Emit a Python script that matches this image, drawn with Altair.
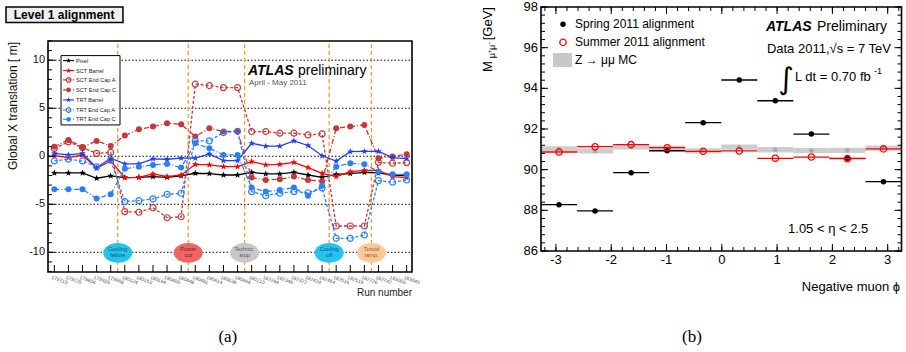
import altair as alt
import pandas as pd

# ---------------- (a) Level-1 alignment, global X translation per run ----------------
runs = ["179710", "179725", "179804", "179939", "179958", "180124", "180153",
        "180164", "180400", "180448", "180481", "180614", "180636", "180664",
        "180710", "182284", "182346", "182372", "182424", "182454", "182516",
        "182519", "182726", "182747", "183003", "183045"]
run_idx = list(range(len(runs)))

pixel = [-1.74, -1.74, -1.74, -2.29, -2.05, -2.22, -2.19, -2.12, -2.19, -2.05, -1.77, -1.81, -1.95,
         -1.95, -1.67, -1.84, -1.84, -1.67, -1.95, -2.19, -1.88, -1.81, -1.67, -1.74, -1.95, -2.02]
sct_barrel = [0.06, -0.14, 0.13, -1.25, -0.49, -2.22, -2.19, -1.84, -2.12, -1.95, -0.84, -0.90, -1.08,
              -1.08, -0.56, -0.90, -0.84, -0.63, -1.18, -1.77, -2.12, -1.60, -1.46, -1.46, -2.12, -2.22]
sct_eca = [0.80, 1.50, 0.90, 0.30, 0.40, -5.76, -5.83, -5.35, -6.40, -6.30, 7.50, 7.36, 7.15,
           7.15, 2.57, 2.57, 2.40, 2.40, 2.22, 2.33, -7.26, -7.26, -7.26, -0.63, -0.73, -0.66]
sct_ecc = [1.00, 1.70, 0.95, 1.60, 1.07, 2.15, 2.81, 3.09, 3.44, 3.33, 2.05, 2.92, 2.57,
           2.60, -2.22, -2.47, -2.40, -2.12, -2.47, -2.60, 2.92, 3.09, 3.26, -0.21, -0.03, 0.21]
trt_barrel = [0.30, 0.14, 0.30, -1.20, -0.20, -0.80, -0.80, -0.28, -0.31, -0.20, -0.20, 0.24, -0.45,
              -0.45, 1.35, 1.05, 1.05, 1.60, 1.12, 0.05, -0.50, 0.48, 0.50, 0.50, -0.15, -0.25]
trt_eca = [-0.49, -0.30, -0.49, -1.10, -0.40, -4.72, -4.62, -4.44, -3.96, -3.85, 1.60, 1.60, 2.47,
           2.60, -3.68, -4.10, -3.85, -3.68, -3.80, -3.30, -8.54, -8.54, -8.20, -2.54, -2.70, -2.47]
trt_ecc = [-3.44, -3.44, -3.44, -4.40, -3.96, -1.30, -1.08, -0.90, -0.80, -1.18, 1.35, 0.83, 0.14,
           0.14, -3.26, -3.68, -3.50, -3.26, -4.10, -3.06, -1.08, -0.73, -0.83, -1.60, -1.88, -1.88]

event_pos = [4.5, 9.5, 13.5, 19.5, 22.5]
event_line1 = ["Cooling", "Power", "Technic.", "Cooling", "Toroid"]
event_line2 = ["failure", "cut", "stop", "off", "ramp."]
event_fill = ["#22c3ee", "#f06464", "#c8c8c8", "#22c3ee", "#ffc896"]
event_ink = ["#1d4f77", "#6b1f1f", "#555555", "#1d4f77", "#8a5a2a"]

a_grid = [-10, -5, 0, 5, 10]
a_ylabels = [-10, -5, 0, 5, 10]
a_minor = list(range(-12, 13))

# ---------------- (b) Z mass vs negative-muon phi ----------------
phi_lo = [-3.270, -2.618, -1.966, -1.314, -0.662, -0.010, 0.642, 1.294, 1.946, 2.598]
phi_hi = [-2.618, -1.966, -1.314, -0.662, -0.010, 0.642, 1.294, 1.946, 2.598, 3.250]
phi_mid = [-2.944, -2.292, -1.640, -0.988, -0.336, 0.316, 0.968, 1.620, 2.272, 2.924]
m_spring = [88.28, 87.97, 89.85, 90.93, 92.31, 94.41, 93.39, 91.75, 90.56, 89.41]
m_summer = [90.87, 91.13, 91.23, 91.08, 90.90, 90.92, 90.56, 90.62, 90.54, 91.02]
m_mc = [91.02, 90.92, 91.12, 91.05, 90.92, 91.11, 90.98, 90.94, 90.95, 91.06]
mc_half = 0.13

b_xmajor = [-3, -2, -1, 0, 1, 2, 3]
b_xminor = [round(-3.2 + 0.2 * i, 1) for i in range(33)]
b_ymajor = [86, 88, 90, 92, 94, 96, 98]
b_yminor = [round(86 + 0.4 * i, 1) for i in range(31)]

# ---------------- scales (two panels on one canvas) ----------------
A_X0, A_X1 = -0.45, 25.38
A_Y0, A_Y1 = -12.05, 12.0
B_X0, B_X1 = -3.27, 3.25
B_Y0, B_Y1 = 86.0, 98.0

AX = alt.Scale(domain=[A_X0, A_X1], range=[48, 412], nice=False, zero=False)
AY = alt.Scale(domain=[A_Y0, A_Y1], range=[272, 41], nice=False, zero=False)
BX = alt.Scale(domain=[B_X0, B_X1], range=[541, 901.5], nice=False, zero=False)
BY = alt.Scale(domain=[B_Y0, B_Y1], range=[251, 7], nice=False, zero=False)

FONT = "Liberation Sans"
STAR = ("M0,-1L0.235,-0.324L0.951,-0.309L0.38,0.124L0.588,0.809L0,0.4"
        "L-0.588,0.809L-0.38,0.124L-0.951,-0.309L-0.235,-0.324Z")
ELLIPSE = "M-1,0A1,0.68,0,1,1,1,0A1,0.68,0,1,1,-1,0Z"


def enc(sx, sy, x="x", y="y", x2=None, y2=None):
    e = {"x": alt.X(x, type="quantitative", scale=sx, axis=None),
         "y": alt.Y(y, type="quantitative", scale=sy, axis=None)}
    if x2:
        e["x2"] = alt.X2(x2)
    if y2:
        e["y2"] = alt.Y2(y2)
    return e


def ea(**kw):
    return enc(AX, AY, **kw)


def eb(**kw):
    return enc(BX, BY, **kw)


def one(x, y, t=""):
    return pd.DataFrame({"x": [x], "y": [y], "t": [t]})


def _style(style):
    s = dict(font=FONT, baseline="alphabetic")
    s.update(style)
    return s


def text_a(x, y, t, **style):
    return alt.Chart(one(x, y, t)).mark_text(**_style(style)).encode(**ea(), text="t:N")


def text_b(x, y, t, **style):
    return alt.Chart(one(x, y, t)).mark_text(**_style(style)).encode(**eb(), text="t:N")


# ================= panel (a) =================
A = []

grid_df = pd.DataFrame({"y": a_grid, "x": A_X0, "x2": A_X1})
A.append(alt.Chart(grid_df).mark_rule(color="black", strokeWidth=1, strokeDash=[1.5, 2])
         .encode(**ea(x2="x2")))

ev = pd.DataFrame({"x": event_pos, "y": A_Y0, "y2": A_Y1,
                   "yc": -10.05, "y1t": -9.62, "y2t": -10.25,
                   "l1": event_line1, "l2": event_line2,
                   "fill": event_fill, "ink": event_ink})
A.append(alt.Chart(ev).mark_rule(color="#ff9a2e", strokeWidth=1.3, strokeDash=[4, 3])
         .encode(**ea(y2="y2")))
A.append(alt.Chart(ev).mark_point(shape=ELLIPSE, size=841, filled=True, opacity=1, strokeWidth=0)
         .encode(**ea(y="yc"), color=alt.Color("fill:N", scale=None)))
A.append(alt.Chart(ev).mark_text(font=FONT, fontSize=5.6, baseline="middle")
         .encode(**ea(y="y1t"), text="l1:N", color=alt.Color("ink:N", scale=None)))
A.append(alt.Chart(ev).mark_text(font=FONT, fontSize=5.6, baseline="middle")
         .encode(**ea(y="y2t"), text="l2:N", color=alt.Color("ink:N", scale=None)))

series = [
    ("Pixel", pixel, "#000000", None, STAR, True),
    ("SCT Barrel", sct_barrel, "#ff0000", None, STAR, True),
    ("SCT End Cap A", sct_eca, "#c83737", [3, 2], "circle", False),
    ("SCT End Cap C", sct_ecc, "#c83737", [5, 2, 1, 2], "circle", True),
    ("TRT Barrel", trt_barrel, "#1f3fff", None, STAR, True),
    ("TRT End Cap A", trt_eca, "#2a7fff", [3, 2], "circle", False),
    ("TRT End Cap C", trt_ecc, "#2a7fff", [5, 2, 1, 2], "circle", True),
]


def line_kw(color, dash, width=1.3):
    kw = dict(color=color, strokeWidth=width)
    if dash:
        kw["strokeDash"] = dash
    return kw


def point_kw(color, shape, filled, big):
    if shape == STAR:
        size = 50 if big else 30
    else:
        size = 36 if big else 22
    return dict(shape=shape, filled=filled, color=color, size=size, opacity=1,
                strokeWidth=1.2)


for name, vals, color, dash, shape, filled in series:
    df = pd.DataFrame({"x": run_idx, "y": vals})
    A.append(alt.Chart(df).mark_line(**line_kw(color, dash)).encode(**ea()))
    A.append(alt.Chart(df).mark_point(**point_kw(color, shape, filled, True)).encode(**ea()))

# legend box
A.append(alt.Chart(pd.DataFrame({"x": [0.475], "x2": [4.66], "y": [3.26], "y2": [10.48]}))
         .mark_rect(fill="white", stroke="black", strokeWidth=1)
         .encode(**ea(x2="x2", y2="y2")))
leg_y = [9.96, 8.92, 7.95, 6.91, 5.86, 4.82, 3.85]
for (name, vals, color, dash, shape, filled), ly in zip(series, leg_y):
    A.append(alt.Chart(pd.DataFrame({"x": [0.62, 1.40], "y": [ly, ly]}))
             .mark_line(**line_kw(color, dash, 1.1)).encode(**ea()))
    A.append(alt.Chart(one(1.01, ly)).mark_point(**point_kw(color, shape, filled, False))
             .encode(**ea()))
    A.append(text_a(1.54, ly, name, fontSize=5.6, align="left", baseline="middle", color="#222"))

# frame, ticks, labels
A.append(alt.Chart(pd.DataFrame({"x": [A_X0], "x2": [A_X1], "y": [A_Y0], "y2": [A_Y1]}))
         .mark_rect(filled=False, stroke="black", strokeWidth=1.6)
         .encode(**ea(x2="x2", y2="y2")))
A.append(alt.Chart(pd.DataFrame({"y": a_minor, "x": A_X0}))
         .mark_tick(orient="horizontal", size=4, thickness=1, xOffset=2, color="black", opacity=1)
         .encode(**ea()))
A.append(alt.Chart(pd.DataFrame({"y": a_grid, "x": A_X0}))
         .mark_tick(orient="horizontal", size=7, thickness=1, xOffset=3.5, color="black", opacity=1)
         .encode(**ea()))
A.append(alt.Chart(pd.DataFrame({"x": run_idx, "y": A_Y0}))
         .mark_tick(orient="vertical", size=7, thickness=1, yOffset=-3.5, color="black", opacity=1)
         .encode(**ea()))
A.append(alt.Chart(pd.DataFrame({"y": a_ylabels, "x": -0.66, "t": [str(v) for v in a_ylabels]}))
         .mark_text(font=FONT, fontSize=11, align="right", baseline="middle", color="#111")
         .encode(**ea(), text="t:N"))
A.append(alt.Chart(pd.DataFrame({"x": run_idx, "y": -12.42, "t": runs}))
         .mark_text(font=FONT, fontSize=5, align="left", baseline="top", angle=20, dx=-2,
                    color="#555")
         .encode(**ea(), text="t:N"))
A.append(text_a(25.38, -14.55, "Run number", fontSize=10, align="right", color="#222"))
A.append(text_a(-2.93, 11.9, "Global X translation [  m]", fontSize=12, angle=270,
                align="right", baseline="middle", color="#111"))

A.append(text_a(13.74, 8.47, "ATLAS", fontSize=14, fontWeight="bold", fontStyle="italic",
                align="left"))
A.append(text_a(17.29, 8.47, "preliminary", fontSize=14, align="left"))
A.append(text_a(13.81, 7.43, "April - May 2011", fontSize=8, align="left", color="#555"))

# title box
A.append(alt.Chart(pd.DataFrame({"x": [-3.43], "x2": [4.87], "y": [13.92], "y2": [15.55]}))
         .mark_rect(fill="#eeeeee", stroke="black", strokeWidth=1.5)
         .encode(**ea(x2="x2", y2="y2")))
A.append(text_a(0.69, 14.25, "Level 1 alignment", fontSize=12, fontWeight="bold"))

A.append(alt.Chart(one(12.31, -19.34, "(a)"))
         .mark_text(font="Liberation Serif", fontSize=17, baseline="alphabetic")
         .encode(**ea(), text="t:N"))

panel_a = alt.layer(*A)

# ================= panel (b) =================
B = []
mc_df = pd.DataFrame({"x": phi_lo, "x2": phi_hi,
                      "y": [v - mc_half for v in m_mc], "y2": [v + mc_half for v in m_mc],
                      "xm": phi_mid, "ym": m_mc})
B.append(alt.Chart(mc_df).mark_rect(fill="#c8c8c8", opacity=0.9)
         .encode(**eb(x2="x2", y2="y2")))
B.append(alt.Chart(mc_df).mark_point(shape="circle", filled=True, size=20, color="#a8a8a8", opacity=1)
         .encode(**eb(x="xm", y="ym")))

sp = pd.DataFrame({"x": phi_lo, "x2": phi_hi, "xm": phi_mid, "y": m_spring})
B.append(alt.Chart(sp).mark_rule(color="black", strokeWidth=1.3).encode(**eb(x2="x2")))
B.append(alt.Chart(sp).mark_point(shape="circle", filled=True, size=30, color="black", opacity=1)
         .encode(**eb(x="xm")))

su = pd.DataFrame({"x": phi_lo, "x2": phi_hi, "xm": phi_mid, "y": m_summer})
B.append(alt.Chart(su).mark_rule(color="#ff0000", strokeWidth=1.3).encode(**eb(x2="x2")))
B.append(alt.Chart(su).mark_point(shape="circle", filled=False, size=40, color="#ff0000",
                                  strokeWidth=1.3, opacity=1)
         .encode(**eb(x="xm")))

# legend
B.append(alt.Chart(one(-2.872, 97.15)).mark_point(shape="circle", filled=True, size=30,
                                                  color="black", opacity=1).encode(**eb()))
B.append(alt.Chart(one(-2.872, 96.26)).mark_point(shape="circle", filled=False, size=40,
                                                  color="#ff0000", strokeWidth=1.3,
                                                  opacity=1).encode(**eb()))
B.append(alt.Chart(pd.DataFrame({"x": [-3.053], "x2": [-2.709], "y": [95.05], "y2": [95.74]}))
         .mark_rect(fill="#c8c8c8").encode(**eb(x2="x2", y2="y2")))
B.append(text_b(-2.655, 97.15, "Spring 2011 alignment", fontSize=12, align="left",
                baseline="middle"))
B.append(text_b(-2.655, 96.26, "Summer 2011 alignment", fontSize=12, align="left",
                baseline="middle"))
B.append(text_b(-2.655, 95.39, "Z \u2192 \u03bc\u03bc MC", fontSize=12, align="left",
                baseline="middle"))

# frame and ticks on all four sides
B.append(alt.Chart(pd.DataFrame({"x": [B_X0], "x2": [B_X1], "y": [B_Y0], "y2": [B_Y1]}))
         .mark_rect(filled=False, stroke="black", strokeWidth=1.6)
         .encode(**eb(x2="x2", y2="y2")))
for vals, size in ((b_xminor, 4), (b_xmajor, 7)):
    B.append(alt.Chart(pd.DataFrame({"x": vals, "y": B_Y0}))
             .mark_tick(orient="vertical", size=size, thickness=1, yOffset=-size / 2,
                        color="black", opacity=1).encode(**eb()))
    B.append(alt.Chart(pd.DataFrame({"x": vals, "y": B_Y1}))
             .mark_tick(orient="vertical", size=size, thickness=1, yOffset=size / 2,
                        color="black", opacity=1).encode(**eb()))
for vals, size in ((b_yminor, 4), (b_ymajor, 7)):
    B.append(alt.Chart(pd.DataFrame({"y": vals, "x": B_X0}))
             .mark_tick(orient="horizontal", size=size, thickness=1, xOffset=size / 2,
                        color="black", opacity=1).encode(**eb()))
    B.append(alt.Chart(pd.DataFrame({"y": vals, "x": B_X1}))
             .mark_tick(orient="horizontal", size=size, thickness=1, xOffset=-size / 2,
                        color="black", opacity=1).encode(**eb()))

B.append(alt.Chart(pd.DataFrame({"y": b_ymajor, "x": -3.324, "t": [str(v) for v in b_ymajor]}))
         .mark_text(font=FONT, fontSize=13, align="right", baseline="middle")
         .encode(**eb(), text="t:N"))
B.append(alt.Chart(pd.DataFrame({"x": b_xmajor, "y": 85.36, "t": [str(v) for v in b_xmajor]}))
         .mark_text(font=FONT, fontSize=13, align="center", baseline="alphabetic")
         .encode(**eb(), text="t:N"))
B.append(text_b(3.225, 84.03, "Negative muon \u03d5", fontSize=13, align="right"))

# y title: M with mu+mu- subscript
B.append(text_b(-4.229, 98.0, "[GeV]", fontSize=13, angle=270, align="right",
                baseline="middle"))
B.append(text_b(-4.16, 96.29, "\u03bc\u207a\u03bc\u207b", fontSize=9, angle=270, align="right",
                baseline="middle"))
B.append(text_b(-4.229, 95.34, "M", fontSize=13, angle=270, align="right", baseline="middle"))

B.append(text_b(0.799, 96.82, "ATLAS", fontSize=14, fontWeight="bold", fontStyle="italic",
                align="left"))
B.append(text_b(1.722, 96.82, "Preliminary", fontSize=14, align="left"))
B.append(text_b(3.06, 95.74, "Data 2011,\u221as = 7 TeV", fontSize=13, align="right"))
B.append(text_b(1.161, 93.95, "\u222b", font="DejaVu Sans", fontSize=30, align="center"))
B.append(text_b(1.324, 94.36, "L dt = 0.70 fb", fontSize=13, align="left"))
B.append(text_b(2.753, 94.70, "-1", fontSize=9, align="left"))
B.append(text_b(1.198, 86.88, "1.05 < \u03b7 < 2.5", fontSize=13, align="left"))

B.append(alt.Chart(one(-0.539, 81.52, "(b)"))
         .mark_text(font="Liberation Serif", fontSize=17, baseline="alphabetic")
         .encode(**eb(), text="t:N"))

panel_b = alt.layer(*B)

chart = (
    alt.layer(panel_a, panel_b)
    .resolve_scale(x="independent", y="independent")
    .properties(width=906, height=352, padding=0,
                autosize=alt.AutoSizeParams(type="none"), background="white")
    .configure_view(stroke=None)
)

chart.save("out.html", embed_options={"renderer": "svg", "actions": False})
